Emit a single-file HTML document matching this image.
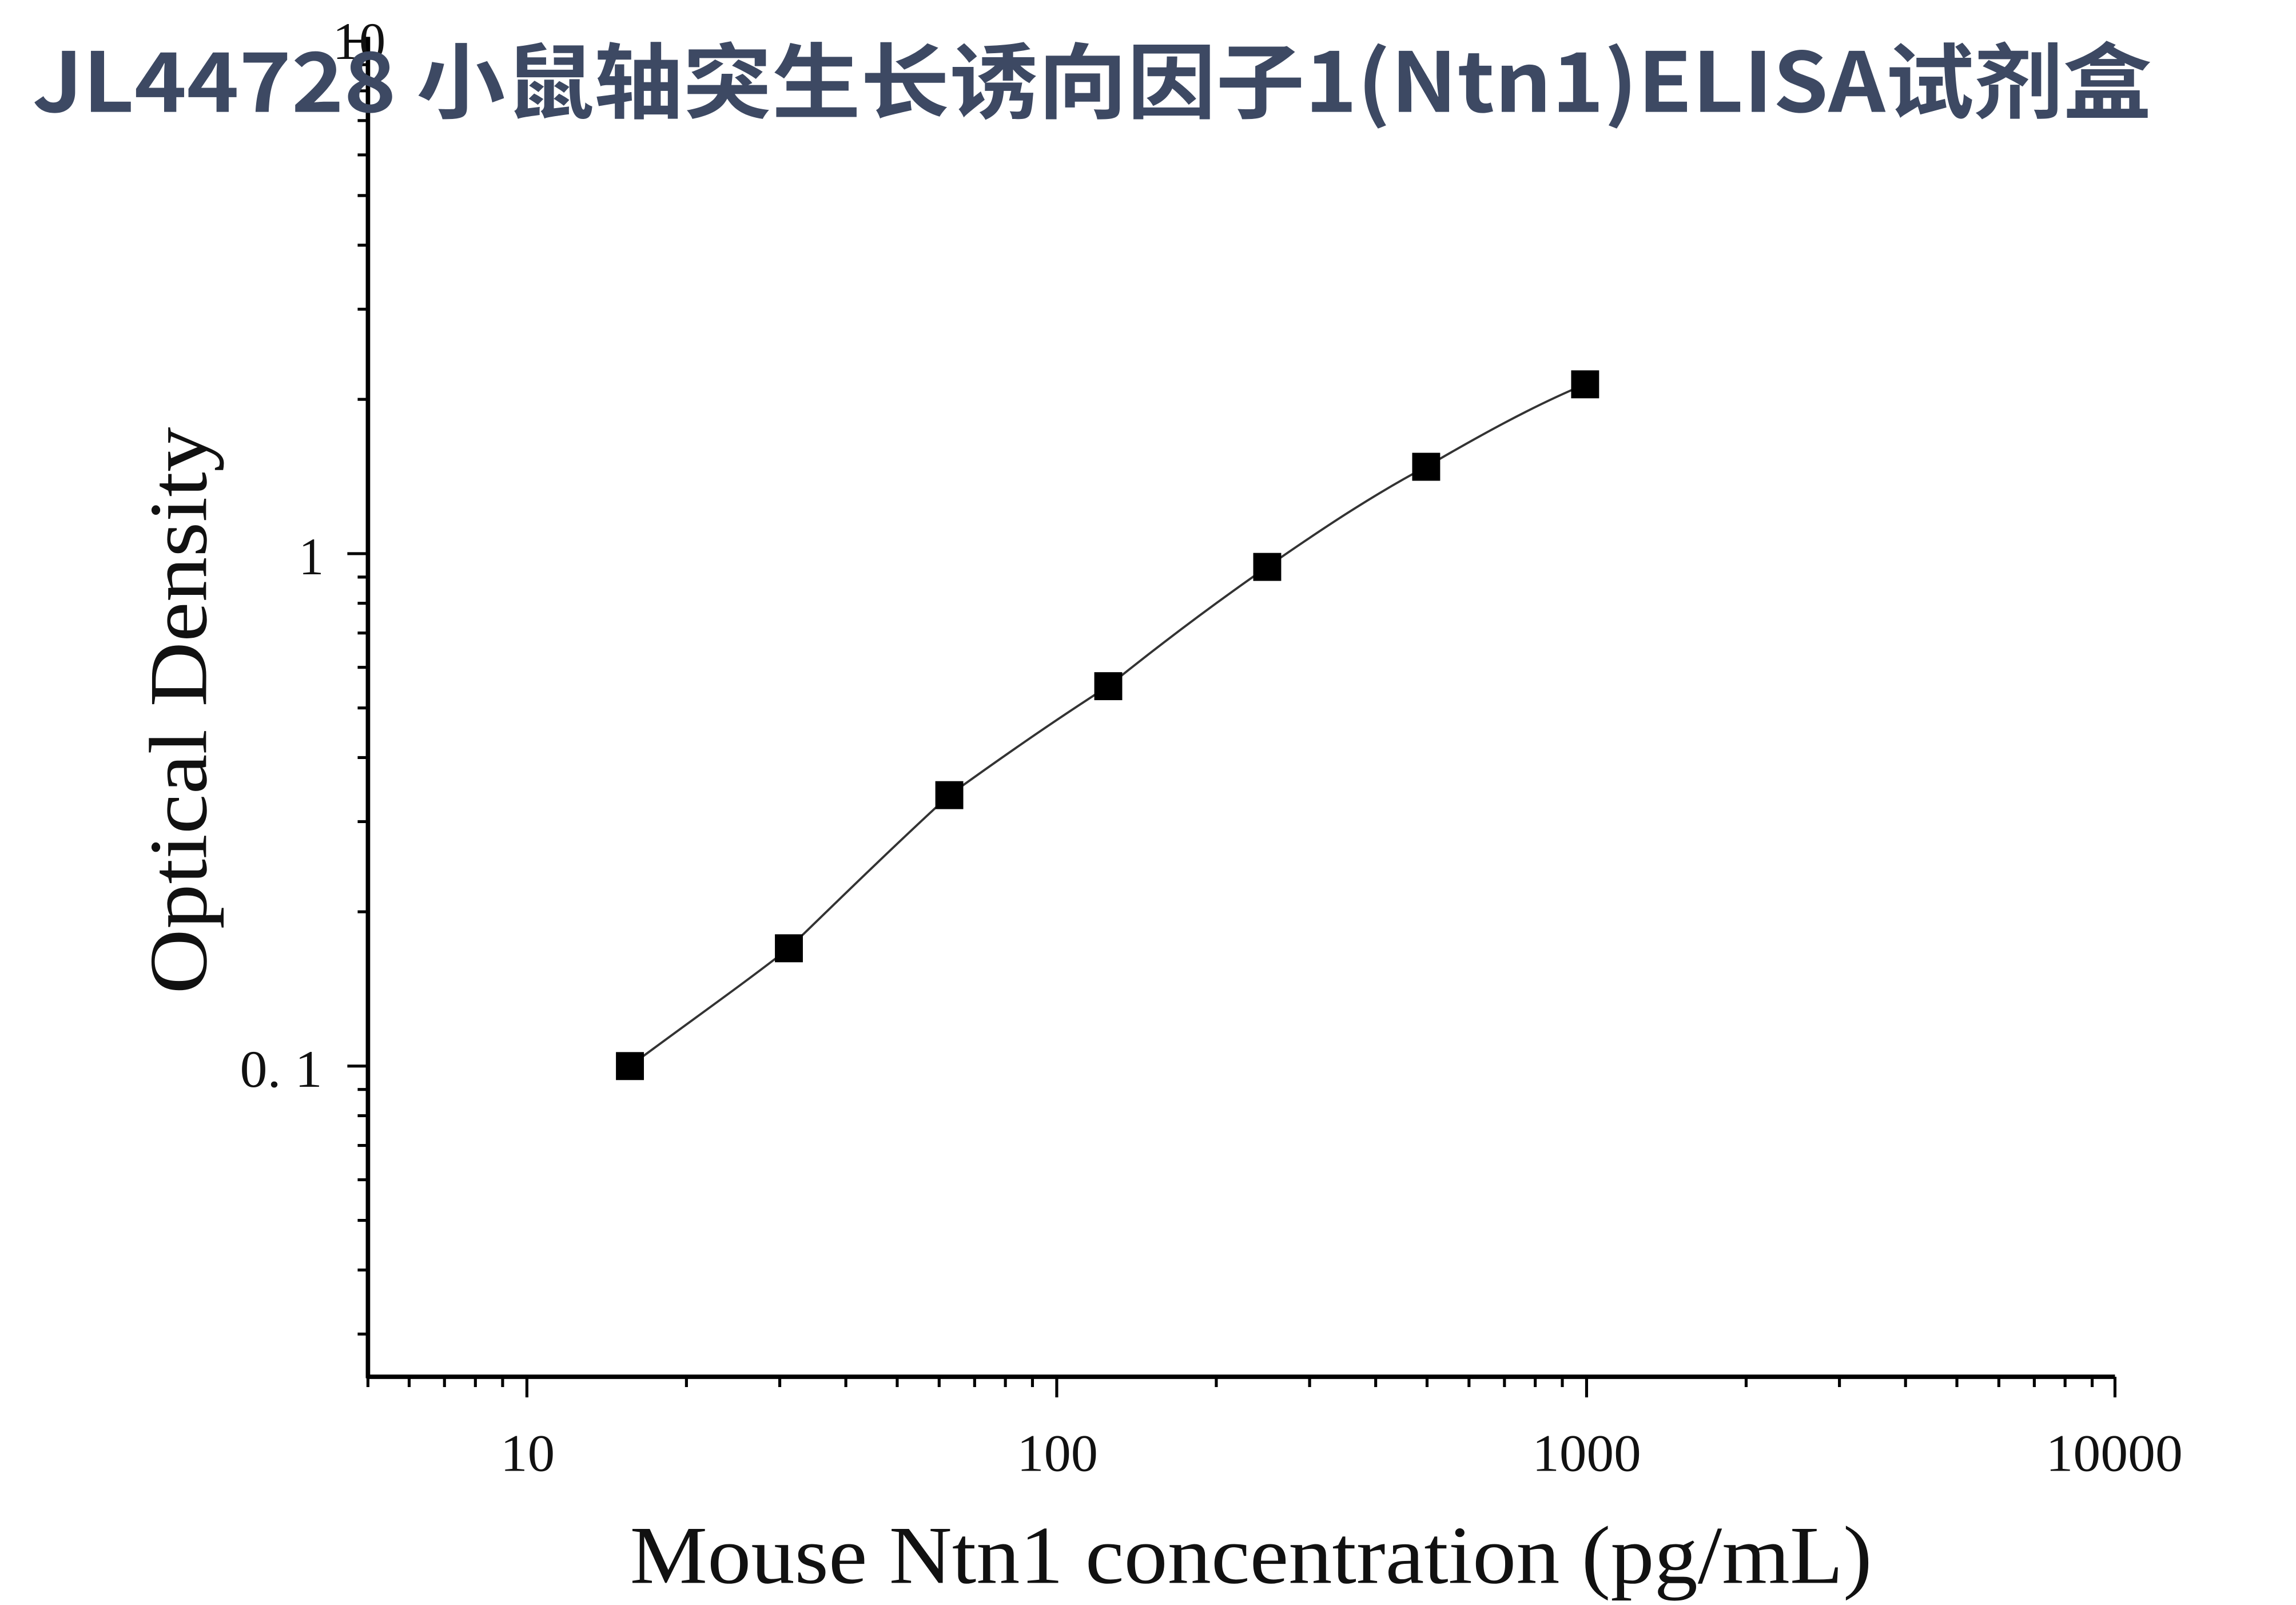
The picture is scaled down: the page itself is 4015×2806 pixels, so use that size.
<!DOCTYPE html>
<html><head><meta charset="utf-8"><style>
html,body{margin:0;padding:0;background:#fff;}
svg{display:block;}
</style></head><body>
<svg width="4015" height="2806" viewBox="0 0 1560 1090" preserveAspectRatio="none" xmlns="http://www.w3.org/2000/svg">
<rect width="1560" height="1090" fill="#fff"/>
<g stroke="#000" stroke-width="3" fill="none">
<line x1="250" y1="25" x2="250" y2="936"/>
<line x1="249" y1="935" x2="1437" y2="935"/>
</g>
<g stroke="#000" stroke-width="2">
<line x1="358" y1="935" x2="358" y2="949"/><line x1="718" y1="935" x2="718" y2="949"/><line x1="1078" y1="935" x2="1078" y2="949"/><line x1="1437" y1="935" x2="1437" y2="949"/>
<g>
<line x1="250" y1="935" x2="250" y2="942"/><line x1="278" y1="935" x2="278" y2="942"/><line x1="302" y1="935" x2="302" y2="942"/><line x1="323" y1="935" x2="323" y2="942"/><line x1="341.5" y1="935" x2="341.5" y2="942"/>
<line x1="466.4" y1="935" x2="466.4" y2="942"/><line x1="529.8" y1="935" x2="529.8" y2="942"/><line x1="574.7" y1="935" x2="574.7" y2="942"/><line x1="609.6" y1="935" x2="609.6" y2="942"/><line x1="638.1" y1="935" x2="638.1" y2="942"/><line x1="662.2" y1="935" x2="662.2" y2="942"/><line x1="683.1" y1="935" x2="683.1" y2="942"/><line x1="701.5" y1="935" x2="701.5" y2="942"/>
<line x1="826.4" y1="935" x2="826.4" y2="942"/><line x1="889.8" y1="935" x2="889.8" y2="942"/><line x1="934.7" y1="935" x2="934.7" y2="942"/><line x1="969.6" y1="935" x2="969.6" y2="942"/><line x1="998.1" y1="935" x2="998.1" y2="942"/><line x1="1022.2" y1="935" x2="1022.2" y2="942"/><line x1="1043.1" y1="935" x2="1043.1" y2="942"/><line x1="1061.5" y1="935" x2="1061.5" y2="942"/>
<line x1="1186.4" y1="935" x2="1186.4" y2="942"/><line x1="1249.8" y1="935" x2="1249.8" y2="942"/><line x1="1294.7" y1="935" x2="1294.7" y2="942"/><line x1="1329.6" y1="935" x2="1329.6" y2="942"/><line x1="1358.1" y1="935" x2="1358.1" y2="942"/><line x1="1382.2" y1="935" x2="1382.2" y2="942"/><line x1="1403.1" y1="935" x2="1403.1" y2="942"/><line x1="1421.5" y1="935" x2="1421.5" y2="942"/>
</g>
<line x1="236" y1="28" x2="250" y2="28"/><line x1="236" y1="376" x2="250" y2="376"/><line x1="236" y1="724" x2="250" y2="724"/>
<line x1="243" y1="271.2" x2="250" y2="271.2"/><line x1="243" y1="210" x2="250" y2="210"/><line x1="243" y1="166.5" x2="250" y2="166.5"/><line x1="243" y1="132.8" x2="250" y2="132.8"/><line x1="243" y1="105.2" x2="250" y2="105.2"/><line x1="243" y1="81.9" x2="250" y2="81.9"/><line x1="243" y1="61.7" x2="250" y2="61.7"/><line x1="243" y1="43.9" x2="250" y2="43.9"/>
<line x1="243" y1="619.2" x2="250" y2="619.2"/><line x1="243" y1="558" x2="250" y2="558"/><line x1="243" y1="514.5" x2="250" y2="514.5"/><line x1="243" y1="480.8" x2="250" y2="480.8"/><line x1="243" y1="453.2" x2="250" y2="453.2"/><line x1="243" y1="429.9" x2="250" y2="429.9"/><line x1="243" y1="409.7" x2="250" y2="409.7"/><line x1="243" y1="391.9" x2="250" y2="391.9"/>
<line x1="243" y1="906" x2="250" y2="906"/><line x1="243" y1="862.5" x2="250" y2="862.5"/><line x1="243" y1="828.8" x2="250" y2="828.8"/><line x1="243" y1="801.2" x2="250" y2="801.2"/><line x1="243" y1="777.9" x2="250" y2="777.9"/><line x1="243" y1="757.7" x2="250" y2="757.7"/><line x1="243" y1="739.9" x2="250" y2="739.9"/>
</g>
<g font-family="Liberation Serif, serif" font-size="36" fill="#111">
<text x="340" y="999" textLength="37" lengthAdjust="spacingAndGlyphs">10</text>
<text x="691" y="999" textLength="55" lengthAdjust="spacingAndGlyphs">100</text>
<text x="1041" y="999" textLength="74" lengthAdjust="spacingAndGlyphs">1000</text>
<text x="1390" y="999" textLength="93" lengthAdjust="spacingAndGlyphs">10000</text>
<text x="203" y="390" textLength="17" lengthAdjust="spacingAndGlyphs">1</text>
<text x="163" y="738" textLength="56" lengthAdjust="spacingAndGlyphs">0. 1</text>
<text x="226" y="40" textLength="36" lengthAdjust="spacingAndGlyphs">10</text>
</g>
<path d="M428,724 C464,697 500,672 536,644 C572,609 609,573 645,540 C681,514 717,489 753,466 C789,437 825,410 861,385 C897,360 933,336 969,317 C1005,296 1041,276 1077,261" stroke="#333" stroke-width="1.5" fill="none"/>
<g fill="#000">
<rect x="418.5" y="714.5" width="19" height="19"/>
<rect x="526.5" y="634.5" width="19" height="19"/>
<rect x="635.5" y="530.5" width="19" height="19"/>
<rect x="743.5" y="456.5" width="19" height="19"/>
<rect x="851.5" y="375.5" width="19" height="19"/>
<rect x="959.5" y="307.5" width="19" height="19"/>
<rect x="1067.5" y="251.5" width="19" height="19"/>
</g>
<text x="428" y="1075" textLength="844" lengthAdjust="spacingAndGlyphs" font-family="Liberation Serif, serif" font-size="56" fill="#111">Mouse Ntn1 concentration (pg/mL)</text>
<text transform="translate(140 675) rotate(-90)" textLength="385" lengthAdjust="spacingAndGlyphs" font-family="Liberation Serif, serif" font-size="56" fill="#111">Optical Density</text>
<text x="22" y="76" textLength="1440" lengthAdjust="spacingAndGlyphs" font-family="Noto Sans CJK SC, sans-serif" font-weight="bold" font-size="56" fill="#3d4963">JL44728 小鼠轴突生长诱向因子1(Ntn1)ELISA试剂盒</text>
</svg>
</body></html>
